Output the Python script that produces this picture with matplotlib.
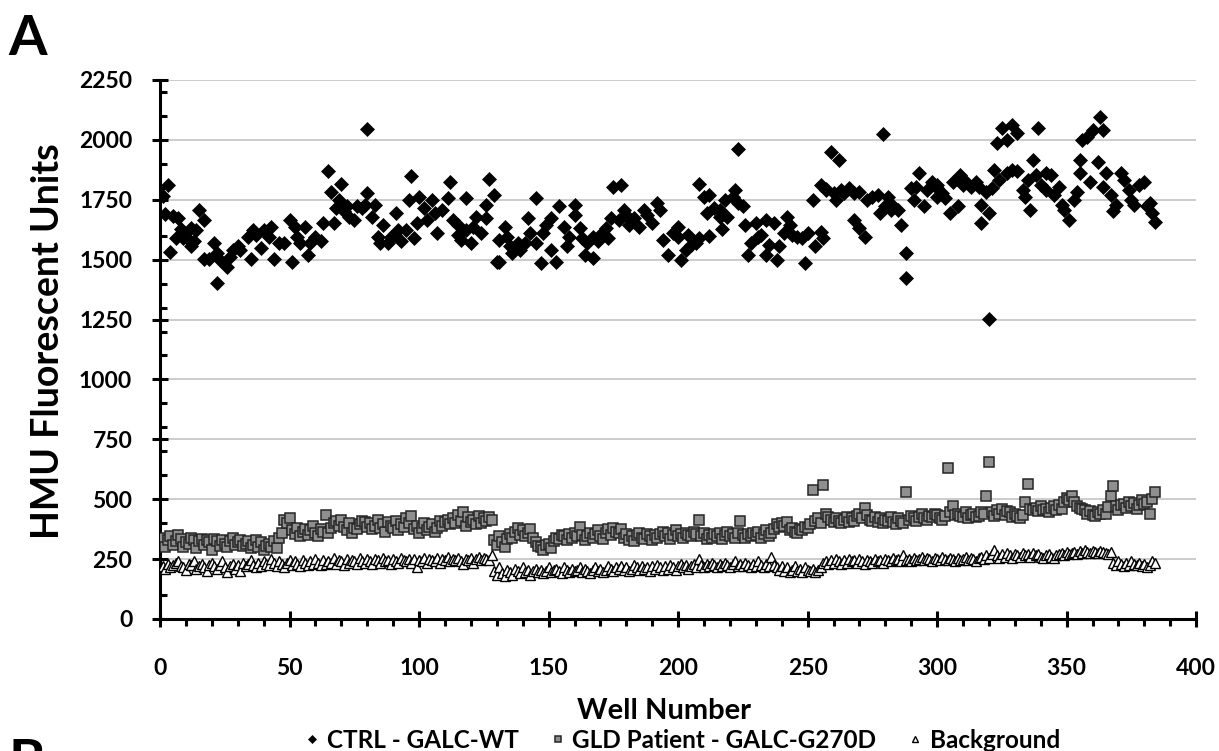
"""
Plate uniformity scatter: HMU fluorescence per well for the control,
patient and background wells of a 384-well plate (panel A).
"""

import matplotlib
matplotlib.use("Agg")
import matplotlib.pyplot as plt
from matplotlib.ticker import MultipleLocator

plt.rcParams["font.family"] = ["Lato", "DejaVu Sans"]
plt.rcParams["font.weight"] = "bold"

# CTRL - GALC-WT as (well, HMU) points
ctrl_well = [
    1, 2, 3, 4, 5, 6, 7, 8, 9, 10, 12, 12, 13, 14, 15, 17, 17, 21, 19, 22,
    22, 23, 26, 27, 28, 30, 31, 34, 35, 36, 37, 39, 40, 42, 43, 44, 46, 48,
    50, 51, 52, 53, 54, 56, 57, 58, 60, 62, 63, 65, 66, 67, 68, 69, 70, 71,
    72, 73, 75, 76, 78, 79, 80, 80, 82, 83, 84, 85, 86, 88, 89, 91, 92, 93,
    95, 96, 97, 98, 99, 100,
    102, 103, 105, 106, 107, 109, 111, 112, 113, 115, 115, 116, 118, 118,
    120, 121, 122, 124, 126, 126, 127, 129, 130, 131, 131, 133, 134, 135,
    136, 138, 139, 141, 142, 143, 145, 145, 147, 148, 149, 151, 151, 153,
    154, 156, 157, 158, 160, 160, 162, 163, 164, 165, 167, 167, 169, 170,
    172, 173, 174, 175, 178, 177, 179, 180, 181, 183, 185, 187, 188, 190,
    192, 193, 194, 196, 198, 200,
    200, 201, 203, 204, 205, 207, 208, 208, 210, 211, 212, 212, 214, 216,
    216, 217, 218, 219, 221, 222, 223, 223, 225, 226, 227, 228, 230, 231,
    232, 234, 234, 235, 237, 238, 239, 241, 242, 243, 244, 246, 248, 249,
    250, 252, 253, 255, 255, 256, 257, 257, 259, 260, 261, 262, 263, 264,
    266, 268, 268, 270, 270, 272, 273, 275, 277, 278, 279, 280, 281, 282,
    283, 285, 286, 288, 288, 290, 291, 292, 293, 295, 296, 298, 300, 300,
    300, 302, 303, 305, 306, 308, 309, 310, 311, 313, 315, 316, 317, 317,
    319, 320, 320, 321, 322, 323, 324, 325, 327, 327, 329, 329, 331, 331,
    333, 334, 336, 335, 337, 339, 338, 340, 342, 342, 344, 345, 347, 348,
    349, 351, 353, 354, 355, 355, 356, 358, 359, 360, 362, 363, 364, 364,
    365, 367, 368, 369, 371, 372, 374, 375, 376, 378, 380, 381, 382, 383,
    384,
]
ctrl_hmu = [
    1766, 1691, 1812, 1530, 1683, 1592, 1673, 1627, 1589, 1596, 1631, 1555,
    1576, 1624, 1708, 1666, 1502, 1569, 1502, 1527, 1404, 1499, 1471, 1513,
    1541, 1555, 1541, 1596, 1502, 1624, 1603, 1548, 1624, 1596, 1638, 1502,
    1569, 1569, 1666, 1492, 1638, 1596, 1569, 1638, 1520, 1569, 1596, 1576,
    1652, 1872, 1784, 1655, 1715, 1749, 1816, 1701, 1722, 1680, 1666, 1722,
    1715, 1729, 1780, 2046, 1680, 1729, 1596, 1569, 1645, 1569, 1596, 1694,
    1624, 1576, 1624, 1749, 1850, 1589, 1652, 1763,
    1715, 1666, 1749, 1694, 1610, 1708, 1756, 1826, 1666, 1645, 1603, 1582,
    1756, 1624, 1569, 1638, 1680, 1610, 1729, 1673, 1836, 1770, 1492, 1492,
    1582, 1638, 1596, 1555, 1527, 1569, 1541, 1569, 1673, 1610, 1569, 1756,
    1485, 1610, 1645, 1673, 1541, 1492, 1722, 1638, 1555, 1596, 1729, 1687,
    1631, 1589, 1520, 1569, 1596, 1506, 1576, 1603, 1631, 1589, 1673, 1805,
    1812, 1666, 1708, 1687, 1645, 1673, 1638, 1708, 1687, 1652, 1736, 1708,
    1582, 1520, 1610, 1638,
    1596, 1499, 1541, 1603, 1562, 1569, 1589, 1816, 1763, 1694, 1599, 1770,
    1715, 1708, 1680, 1627, 1749, 1680, 1763, 1791, 1736, 1962, 1722, 1645,
    1520, 1569, 1652, 1596, 1603, 1520, 1666, 1562, 1652, 1499, 1555, 1610,
    1680, 1645, 1603, 1596, 1589, 1488, 1610, 1749, 1555, 1617, 1812, 1589,
    1794, 1791, 1951, 1777, 1749, 1916, 1791, 1777, 1798, 1777, 1666, 1784,
    1631, 1596, 1749, 1763, 1770, 1694, 2025, 1722, 1763, 1708, 1722, 1708,
    1645, 1527, 1423, 1798, 1749, 1805, 1863, 1722, 1791, 1826, 1812, 1763,
    1798, 1777, 1756, 1694, 1826, 1722, 1854, 1812, 1826, 1805, 1826, 1805,
    1729, 1652, 1784, 1694, 1251, 1798, 1875, 1986, 1833, 2049, 1861, 2000,
    2062, 1875, 1868, 2028, 1791, 1763, 1708, 1833, 1916, 2049, 1854, 1812,
    1861, 1791, 1854, 1770, 1805, 1729, 1708, 1666, 1749, 1784, 1861, 1916,
    2000, 2013, 1826, 2042, 1909, 2094, 2042, 1805, 1861, 1770, 1701, 1729,
    1861, 1833, 1791, 1749, 1729, 1812, 1826, 1722, 1736, 1694, 1659,
]

# GLD Patient - GALC-G270D, one value per well 1..384
gld_hmu = [
    340, 300, 330, 345, 310, 325, 350, 335, 300, 320, 315, 340, 330, 295, 325, 335,
    310, 330, 320, 290, 335, 325, 305, 330, 315, 300, 325, 340, 310, 320, 330, 305,
    315, 325, 295, 310, 330, 300, 320, 290, 305, 315, 300, 325, 295, 340, 360, 415,
    400, 420, 370, 355, 380, 345, 365, 375, 350, 370, 390, 360, 345, 375, 365, 435,
    360, 380, 400, 410, 390, 415, 385, 370, 400, 360, 380, 375, 395, 410, 405, 385,
    400, 375, 390, 415, 380, 395, 365, 405, 390, 380, 410, 370, 395, 385, 420, 400,
    430, 375, 390, 360, 380, 400, 370, 385, 395, 365, 380, 410, 390, 405, 415, 395,
    420, 400, 435, 410, 445, 390, 425, 405, 415, 395, 430, 400, 420, 410, 425, 415,
    330, 310, 345, 320, 300, 335, 355, 340, 365, 380, 350, 370, 345, 360, 375, 340,
    320, 305, 300, 290, 310, 315, 295, 325, 340, 335, 350, 345, 330, 355, 340, 360,
    345, 385, 350, 330, 345, 360, 340, 355, 370, 345, 335, 360, 375, 350, 380, 365,
    360, 375, 340, 355, 330, 345, 325, 350, 360, 340, 335, 355, 345, 330, 350, 340,
    355, 365, 345, 360, 335, 350, 370, 345, 355, 340, 360, 350, 345, 365, 355, 415,
    345, 360, 335, 350, 340, 355, 345, 360, 335, 350, 365, 345, 355, 340, 360, 410,
    350, 340, 355, 345, 360, 350, 365, 340, 355, 370, 345, 360, 375, 395, 385, 400,
    390, 405, 370, 380, 365, 360, 375, 370, 385, 380, 395, 538, 410, 420, 400, 559,
    440, 425, 415, 405, 420, 410, 400, 415, 425, 405, 420, 410, 430, 440, 420, 462,
    435, 415, 410, 425, 405, 420, 400, 415, 410, 425, 405, 395, 420, 410, 400, 532,
    415, 430, 420, 410, 425, 440, 420, 415, 430, 425, 440, 435, 420, 415, 430, 629,
    445, 470, 435, 440, 430, 425, 445, 420, 435, 440, 425, 430, 445, 440, 515, 654,
    445, 430, 455, 440, 460, 435, 450, 445, 425, 440, 430, 420, 435, 490, 563, 460,
    455, 465, 450, 470, 455, 460, 445, 465, 470, 455, 475, 460, 490, 505, 495, 515,
    490, 470, 465, 460, 455, 440, 450, 435, 430, 445, 440, 455, 440, 469, 513, 556,
    470, 455, 475, 480, 465, 490, 470, 485, 460, 475, 495, 480, 490, 437, 500, 532,
]

# Background, one value per well 1..384
bg_hmu = [
    220, 210, 230, 215, 225, 235, 240, 220, 215, 205, 230, 225, 240, 210, 220, 230,
    215, 200, 225, 235, 220, 210, 225, 240, 215, 195, 220, 230, 210, 225, 200, 235,
    220, 230, 245, 225, 215, 235, 220, 240, 230, 225, 250, 235, 220, 240, 230, 215,
    235, 245, 225, 240, 230, 220, 245, 235, 225, 240, 230, 250, 235, 225, 245, 230,
    240, 235, 255, 230, 245, 240, 225, 250, 235, 245, 240, 230, 255, 240, 235, 250,
    240, 230, 250, 245, 235, 255, 240, 245, 230, 250, 240, 235, 255, 245, 240, 250,
    235, 250, 215, 245, 240, 255, 235, 250, 245, 240, 255, 235, 250, 245, 260, 240,
    250, 245, 255, 240, 230, 250, 245, 255, 235, 250, 260, 245, 255, 250, 245, 265,
    200, 185, 215, 190, 180, 205, 195, 185, 210, 200, 190, 215, 195, 205, 185, 200,
    210, 195, 205, 190, 200, 215, 195, 205, 210, 200, 190, 215, 205, 195, 210, 200,
    205, 215, 195, 210, 200, 190, 205, 215, 200, 210, 195, 205, 220, 210, 200, 215,
    210, 220, 205, 215, 200, 210, 225, 215, 205, 220, 210, 215, 200, 220, 210, 225,
    215, 205, 220, 210, 225, 215, 205, 220, 230, 215, 225, 210, 220, 230, 215, 250,
    225, 215, 230, 220, 235, 225, 215, 230, 220, 235, 225, 215, 230, 240, 220, 230,
    220, 235, 225, 215, 230, 220, 240, 225, 215, 230, 220, 260, 225, 215, 205, 220,
    200, 215, 195, 205, 220, 200, 210, 195, 215, 205, 200, 210, 195, 205, 215, 235,
    240, 230, 245, 235, 250, 240, 230, 245, 235, 250, 240, 245, 235, 250, 240, 230,
    245, 240, 235, 250, 240, 245, 235, 250, 245, 240, 255, 245, 250, 240, 265, 245,
    250, 240, 255, 245, 250, 260, 245, 255, 250, 240, 255, 250, 245, 260, 250, 245,
    255, 250, 240, 255, 245, 250, 260, 245, 255, 250, 240, 255, 260, 250, 265, 255,
    270, 290, 265, 255, 270, 260, 275, 265, 255, 270, 265, 260, 275, 265, 270, 260,
    275, 265, 270, 260, 255, 265, 270, 260, 255, 265, 270, 275, 265, 280, 270, 275,
    280, 270, 285, 275, 290, 280, 275, 285, 280, 275, 285, 280, 275, 270, 280, 235,
    225, 240, 230, 220, 235, 225, 240, 230, 225, 235, 220, 230, 215, 225, 240, 235,
]

series_labels = ["CTRL - GALC-WT", "GLD Patient - GALC-G270D", "Background"]
x_label = "Well Number"
y_label = "HMU Fluorescent Units"


def plot_panel(out_path):
    wells = list(range(1, len(gld_hmu) + 1))

    fig = plt.figure(figsize=(12.19, 7.51), dpi=100)
    ax = fig.add_axes([0.1313, 0.1758, 0.8500, 0.7177])

    ax.plot(ctrl_well, ctrl_hmu, ls="none", marker="D", ms=7.5,
            mfc="black", mec="black", mew=0.5, label=series_labels[0], zorder=3)
    ax.plot(wells, gld_hmu, ls="none", marker="s", ms=7.5,
            mfc="#8f8f8f", mec="#262626", mew=1.1, label=series_labels[1], zorder=3)
    ax.plot(wells, bg_hmu, ls="none", marker="^", ms=7,
            mfc="white", mec="black", mew=1.0, label=series_labels[2], zorder=4)

    ax.set_xlim(0, 400)
    ax.set_ylim(0, 2250)
    ax.xaxis.set_major_locator(MultipleLocator(50))
    ax.xaxis.set_minor_locator(MultipleLocator(10))
    ax.yaxis.set_major_locator(MultipleLocator(250))
    ax.yaxis.set_minor_locator(MultipleLocator(100))

    ax.grid(axis="y", which="major", color="#c4c4c4", lw=1.2, zorder=0)
    ax.set_axisbelow(True)

    for side in ("top", "right"):
        ax.spines[side].set_visible(False)
    for side in ("left", "bottom"):
        ax.spines[side].set_linewidth(2.2)

    ax.tick_params(axis="x", which="major", direction="inout", length=12,
                   width=2.2, labelsize=16.5, pad=22)
    ax.tick_params(axis="x", which="minor", direction="out", length=5, width=2.2)
    ax.tick_params(axis="y", which="major", direction="inout", length=12,
                   width=2.2, labelsize=16.5, pad=14)
    ax.tick_params(axis="y", which="minor", direction="in", length=5, width=2.2)
    for lab in ax.get_xticklabels() + ax.get_yticklabels():
        lab.set_fontweight("bold")

    fig.text(0.545, 0.053, x_label, ha="center", va="center",
             fontsize=21, fontweight="bold")
    fig.text(0.039, 0.546, y_label, ha="center", va="center", rotation=90,
             fontsize=27, fontweight="bold")

    fig.legend(loc="center", bbox_to_anchor=(0.560, 0.014), ncol=3,
               frameon=False, fontsize=17.5, markerscale=0.6, handlelength=0.6,
               handletextpad=0.3, columnspacing=1.3, borderpad=0)

    fig.text(0.007, 0.982, "A", ha="left", va="top", fontsize=40,
             fontweight="bold")
    fig.text(0.007, 0.017, "B", ha="left", va="top", fontsize=40,
             fontweight="bold")

    fig.savefig(out_path, dpi=100)
    plt.close(fig)


def main():
    plot_panel("out.png")


if __name__ == "__main__":
    main()
